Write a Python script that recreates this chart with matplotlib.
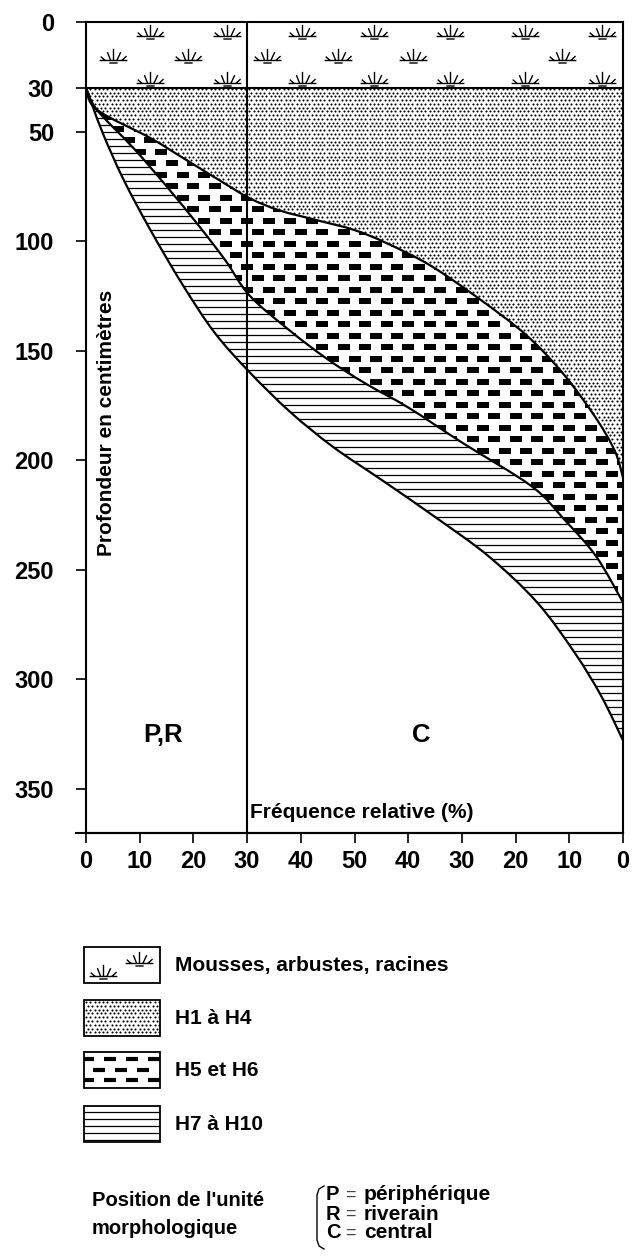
import numpy as np
import matplotlib
matplotlib.use("Agg")
import matplotlib.pyplot as plt
from matplotlib.path import Path
from matplotlib.patches import Rectangle, PathPatch

plt.rcParams['font.family'] = ['Liberation Sans', 'DejaVu Sans']
plt.rcParams['font.weight'] = 'bold'

# depth ticks (cm) and relative frequency axis
depth_ticks = [0, 30, 50, 100, 150, 200, 250, 300, 350]
freq_ticks = [0, 10, 20, 30, 40, 50, 60, 70, 80, 90, 100]
freq_labels = ['0', '10', '20', '30', '40', '50', '40', '30', '20', '10', '0']
moss_depth = 30

# lower limit of H1-H4 (top of H5-H6)
x_h14 = [0, 2, 12, 19, 25, 30.5, 36, 43, 50, 56, 64, 73, 82, 89, 95, 98.5, 100]
d_h14 = [30, 40, 53, 63.5, 72.5, 80.5, 86, 90.5, 95, 101, 111, 126, 143, 161, 181, 196, 208]

# lower limit of H5-H6 (top of H7-H10)
x_h56 = [0, 2, 9, 15, 21, 26, 30.5, 38, 45, 52, 60, 70, 83, 89, 95, 100]
d_h56 = [30, 40, 58, 75, 93, 109, 125, 141, 154, 165, 176, 192, 212, 227, 244, 265]

# lower limit of H7-H10
x_h710 = [0, 3, 7, 12, 18, 24, 30.5, 38, 46, 55, 65, 75, 84, 91, 96, 100]
d_h710 = [30, 50, 72, 95, 120, 142, 160, 178, 194, 209, 226, 244, 265, 288, 308, 328]

# moss / shrub symbols in the 0-30 cm band
moss_rows = [
    ([11.9, 26.3, 40.2, 53.6, 67.8, 81.8, 96.1], 3.5),
    ([5.0, 19.0, 33.7, 46.9, 60.9, 88.6], 14.5),
    ([11.9, 26.3, 40.2, 53.6, 67.8, 81.8, 96.1], 25.0),
]

legend_labels = ['Mousses, arbustes, racines', 'H1 à H4', 'H5 et H6', 'H7 à H10']
position_keys = ['P', 'R', 'C']
position_names = ['périphérique', 'riverain', 'central']

# tuft marker
tuft = Path(
    [(-0.5, 0), (0.5, 0),
     (0, 0), (0, 0.42),
     (-0.1, 0), (-0.22, 0.3),
     (-0.3, 0), (-0.46, 0.14),
     (0.12, 0), (0.26, 0.3),
     (0.3, 0), (0.47, 0.16),
     (-0.15, -0.09), (0.15, -0.09)],
    [Path.MOVETO, Path.LINETO] * 7)


def smooth(xs, ys):
    # catmull-rom through the read points, as cubic bezier segments
    p = np.column_stack([xs, ys]).astype(float)
    n = len(p)
    verts = [p[0]]
    for i in range(n - 1):
        p0 = p[i - 1] if i > 0 else p[i]
        p3 = p[i + 2] if i + 2 < n else p[i + 1]
        verts += [p[i] + (p[i + 1] - p0) / 6, p[i + 1] - (p3 - p[i]) / 6, p[i + 1]]
    codes = [Path.MOVETO] + [Path.CURVE4] * (3 * (n - 1))
    return verts, codes


def band(top, bottom):
    v1, c1 = smooth(*top)
    v2, c2 = smooth(bottom[0][::-1], bottom[1][::-1])
    c2 = [Path.LINETO] + c2[1:]
    return Path(v1 + v2 + [v1[0]], c1 + c2 + [Path.CLOSEPOLY])


def dash_texture(ax, patch, x0, x1, y0, y1, dx, dy, marker, ms, mew):
    xs, ys = [], []
    for i, y in enumerate(np.arange(y0, y1, dy)):
        row = np.arange(x0 + (dx / 2 if i % 2 else 0), x1, dx)
        xs.extend(row)
        ys.extend([y] * len(row))
    ln, = ax.plot(xs, ys, ls='none', marker=marker, ms=ms, mew=mew, color='black',
                  mec='black', zorder=3)
    ln.set_clip_path(patch)


def line_texture(ax, patch, x0, x1, y0, y1, dy):
    lc = ax.hlines(np.arange(y0, y1, dy), x0, x1, color='black', lw=0.9, zorder=3)
    lc.set_clip_path(patch)


fig = plt.figure(figsize=(6.33, 12.58), dpi=100)

# legend area in pixel coordinates
lg = fig.add_axes([0, 0, 1, 1])
lg.set_xlim(0, 633)
lg.set_ylim(1258, 0)
lg.axis('off')

ax = fig.add_axes([86 / 633, 1 - 833 / 1258, 537 / 633, 811 / 1258])
ax.set_xlim(0, 100)
ax.set_ylim(370.3, 0)

# H1-H4 : stipple
v_a, c_a = smooth(x_h14[::-1], d_h14[::-1])
path_dots = Path([(0, 30), (100, 30)] + v_a + [(0, 30)],
                 [Path.MOVETO, Path.LINETO, Path.LINETO] + c_a[1:] + [Path.CLOSEPOLY])
p_dots = ax.add_patch(PathPatch(path_dots, fc='white', lw=0, zorder=2))
dash_texture(ax, p_dots, 0, 101, 30.5, 212, 0.8, 1.72, 'o', 1.5, 0)

# H5-H6 : dashes
p_dash = ax.add_patch(PathPatch(band((x_h14, d_h14), (x_h56, d_h56)), fc='white', lw=0, zorder=2))
dash_texture(ax, p_dash, 0, 102, 33, 270, 4.0, 5.25, '_', 8.5, 3.0)

# H7-H10 : horizontal lines
p_str = ax.add_patch(PathPatch(band((x_h56, d_h56), (x_h710, d_h710)), fc='white', lw=0, zorder=2))
line_texture(ax, p_str, 0, 100, 31, 330, 3.2)

for xs, ds in [(x_h14, d_h14), (x_h56, d_h56), (x_h710, d_h710)]:
    v, c = smooth(xs, ds)
    ax.add_patch(PathPatch(Path(v, c), fc='none', ec='black', lw=1.6, zorder=4))

for xs, d in moss_rows:
    ax.plot(xs, [d + 3] * len(xs), ls='none', marker=tuft, ms=20, mew=1.0,
            mfc='none', mec='black', zorder=4)

ax.axhline(moss_depth, color='black', lw=1.5, zorder=5)
ax.axvline(30, color='black', lw=1.5, zorder=5)
ax.plot([-1.9, 100], [370.3, 370.3], color='black', lw=1.5, clip_on=False, zorder=5)

for s in ax.spines.values():
    s.set_linewidth(1.5)
    s.set_zorder(6)

ax.set_yticks(depth_ticks)
ax.set_yticklabels([str(d) for d in depth_ticks])
ax.set_xticks(freq_ticks)
ax.set_xticklabels(freq_labels)
ax.tick_params(axis='both', direction='out', length=7, width=1.2, labelsize=17)
ax.tick_params(axis='y', pad=16)
ax.tick_params(axis='x', pad=5)

ax.text(2.0, 244, 'Profondeur en centimètres', rotation=90, ha='left', va='bottom',
        fontsize=15, zorder=7)
ax.text(30.6, 361, 'Fréquence relative (%)', ha='left', va='center', fontsize=15, zorder=7)
ax.text(14.3, 325.6, 'P,R', ha='center', va='center', fontsize=18.5)
ax.text(62.4, 325.6, 'C', ha='center', va='center', fontsize=18.5)

# legend boxes
box_y = [947, 1000, 1052, 1106]
for y, lab in zip(box_y, legend_labels):
    lg.text(175, y + 19, lab, ha='left', va='center', fontsize=15)

lg.add_patch(Rectangle((84, 947), 76, 36, fc='white', ec='black', lw=1.3))
lg.plot([103, 139], [976, 963], ls='none', marker=tuft, ms=20, mew=1.0, mfc='none', mec='black')
b_dots = lg.add_patch(Rectangle((84, 1000), 76, 36, fc='white', ec='black', lw=1.3))
dash_texture(lg, b_dots, 86, 160, 1002, 1036, 4.3, 3.8, 'o', 1.5, 0)
b_dash = lg.add_patch(Rectangle((84, 1052), 76, 36, fc='white', ec='black', lw=1.3))
dash_texture(lg, b_dash, 88, 162, 1059, 1090, 22, 10.5, '_', 8.5, 3.0)
b_str = lg.add_patch(Rectangle((84, 1106), 76, 36, fc='white', ec='black', lw=1.3))
line_texture(lg, b_str, 84, 160, 1112, 1142, 7)

lg.text(92, 1200, "Position de l'unité", ha='left', va='center', fontsize=14.5)
lg.text(92, 1229, 'morphologique', ha='left', va='center', fontsize=14.5)
lg.plot([324, 319, 317, 317, 319, 324], [1186, 1189, 1195, 1240, 1246, 1249],
        color='black', lw=1.0)
for i, (k, name) in enumerate(zip(position_keys, position_names)):
    y = 1195 + 19 * i
    lg.text(326, y, k, ha='left', va='center', fontsize=14.5)
    lg.text(345, y, '=', ha='left', va='center', fontsize=13, fontweight='normal',
            color='#444444')
    lg.text(364, y, name, ha='left', va='center', fontsize=15)

fig.savefig('out.png', dpi=100, facecolor='white')
